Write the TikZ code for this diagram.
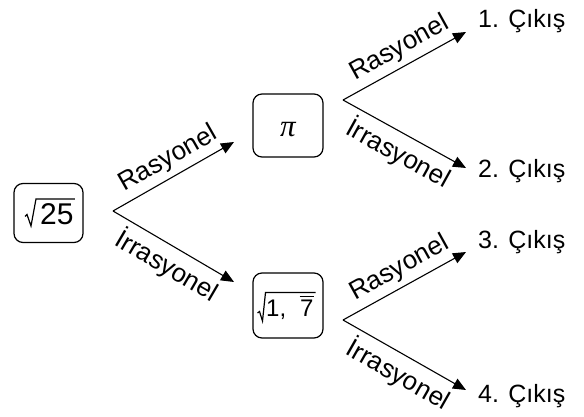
\documentclass[tikz,border=0pt]{standalone}
\usepackage{fontspec}
\setmainfont{Liberation Sans}
\newfontfamily\pifont{Liberation Serif}
\usetikzlibrary{arrows.meta}
\begin{document}
\begin{tikzpicture}[x=1pt,y=-1pt,
 box/.style={draw, rounded corners=9pt, line width=1.2pt, minimum width=70pt, inner sep=0pt},
 arr/.style={line width=1.1pt, -{Triangle[length=13pt,width=11pt]}},
 rad/.style={line width=1.2pt, line join=miter},
 boxtxt/.style={inner sep=0pt, anchor=base west},
 lbl/.style={font=\fontsize{26}{31}\selectfont, sloped, pos=0.53},
 outtxt/.style={font=\fontsize{25}{30}\selectfont, anchor=base west, inner sep=0pt}]
\useasboundingbox (0,0) rectangle (584,417);
% boxes
\node[box, minimum width=69pt, minimum height=59pt] (a) at (48.5,213) {};
\node[box, minimum height=63pt] (b) at (288,125.5) {};
\node[box, minimum height=65pt] (c) at (288,305.5) {};
% box contents
\node[boxtxt, font=\fontsize{30}{36}\selectfont] (a1) at (40,225) {25};
\draw[rad] (25,216.5) -- (27,214.5) -- (31,226) -- (36,199) -- ([xshift=1pt]a1.east |- 0,199);
\node[inner sep=0pt, font=\pifont\itshape\fontsize{31}{36}\selectfont] (b1) at (288,129.5) {π};
\node[boxtxt, font=\fontsize{24}{29}\selectfont] (c1) at (266,316.5) {1,};
\node[boxtxt, font=\fontsize{24}{29}\selectfont] (c2) at (300,316.5) {7};
\draw[rad] (257.5,313) -- (259.5,311.5) -- (262.5,321) -- (265.5,292.5) -- (315.5,292.5);
\draw[line width=1.1pt] ([xshift=-0.5pt]c2.west |- 0,296.5) -- ([xshift=0.5pt]c2.east |- 0,296.5);
% branch points and tips
\coordinate (fa) at (113,211);
\coordinate (ta1) at (234,142);
\coordinate (ta2) at (234,282);
\coordinate (fb) at (343,100);
\coordinate (tb1) at (466,32);
\coordinate (tb2) at (466,168);
\coordinate (fc) at (343,320);
\coordinate (tc1) at (466,252);
\coordinate (tc2) at (466,390);
% outputs
\node[outtxt] (o1) at (478,28) {1. Çıkış};
\node[outtxt] (o2) at (478,178) {2. Çıkış};
\node[outtxt] (o3) at (478,248) {3. Çıkış};
\node[outtxt] (o4) at (478,402) {4. Çıkış};
% arrows
\draw[arr] (fa) -- node[lbl, above, inner sep=5pt] (l1) {Rasyonel} (ta1);
\draw[arr] (fa) -- node[lbl, below, inner sep=5.5pt] (l2) {İrrasyonel} (ta2);
\draw[arr] (fb) -- node[lbl, above, inner sep=5pt] (l3) {Rasyonel} (tb1);
\draw[arr] (fb) -- node[lbl, below, inner sep=5.5pt] (l4) {İrrasyonel} (tb2);
\draw[arr] (fc) -- node[lbl, above, inner sep=5pt] (l5) {Rasyonel} (tc1);
\draw[arr] (fc) -- node[lbl, below, inner sep=5.5pt] (l6) {İrrasyonel} (tc2);
\end{tikzpicture}
\end{document}
